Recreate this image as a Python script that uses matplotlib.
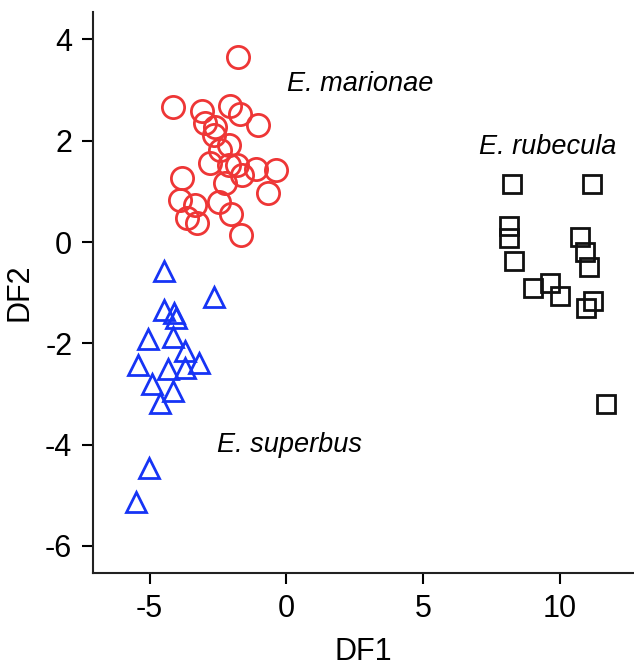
import matplotlib
matplotlib.use("Agg")
import matplotlib.pyplot as plt

plt.rcParams['font.family'] = ['Liberation Sans', 'DejaVu Sans']
plt.rcParams['axes.unicode_minus'] = False

# E. marionae (cercles rouges)
marionae_x = [-1.78, -4.16, -3.09, -2.05, -1.68, -1.04, -2.97, -2.60, -2.66, -2.11,
              -2.42, -2.78, -2.11, -1.81, -1.62, -1.11, -0.37, -2.23, -0.68, -3.82,
              -3.88, -3.33, -3.64, -3.27, -2.48, -2.01, -1.65]
marionae_y = [3.66, 2.66, 2.59, 2.69, 2.53, 2.31, 2.35, 2.28, 2.11, 1.92,
              1.82, 1.56, 1.52, 1.52, 1.32, 1.44, 1.42, 1.16, 0.96, 1.27,
              0.83, 0.73, 0.47, 0.37, 0.80, 0.55, 0.14]

# E. superbus (triangles bleus)
superbus_x = [-4.46, -2.66, -4.46, -4.12, -4.02, -5.04, -4.16, -3.70, -3.19, -5.41,
              -4.31, -3.72, -4.90, -4.15, -4.62, -5.01, -5.49]
superbus_y = [-0.57, -1.09, -1.34, -1.40, -1.50, -1.92, -1.88, -2.15, -2.38, -2.43,
              -2.51, -2.48, -2.81, -2.94, -3.17, -4.47, -5.14]

# E. rubecula (carrés noirs)
rubecula_x = [8.24, 11.16, 8.14, 8.14, 8.33, 10.73, 10.92, 11.07, 9.00, 9.64,
              10.00, 11.22, 10.93, 11.68]
rubecula_y = [1.15, 1.15, 0.32, 0.07, -0.37, 0.10, -0.19, -0.50, -0.90, -0.80,
              -1.06, -1.17, -1.31, -3.19]

fig = plt.figure(figsize=(6.34, 6.69), dpi=100)
ax = fig.add_axes([0.147, 0.143, 0.853, 0.839])

ax.plot(marionae_x, marionae_y, 'o', ms=16, mfc='none', mec='#ee3636', mew=2.0)
ax.plot(superbus_x, superbus_y, '^', ms=15, mfc='none', mec='#1634f5', mew=2.0)
ax.plot(rubecula_x, rubecula_y, 's', ms=12.5, mfc='none', mec='#111111', mew=2.0)

ax.text(0.03, 3.12, 'E. marionae', fontsize=19.5, style='italic', va='center')
ax.text(7.03, 1.88, 'E. rubecula', fontsize=19.5, style='italic', va='center')
ax.text(-2.53, -4.01, 'E. superbus', fontsize=19.5, style='italic', va='center')

ax.set_xlim(-7.06, 12.7)
ax.set_ylim(-6.54, 4.54)
ax.set_xticks([-5, 0, 5, 10])
ax.set_yticks([4, 2, 0, -2, -4, -6])
ax.tick_params(labelsize=22, length=8, width=1.5, direction='out', pad=7)

for side in ['top', 'right']:
    ax.spines[side].set_visible(False)
for side in ['left', 'bottom']:
    ax.spines[side].set_linewidth(1.5)
    ax.spines[side].set_color('#222222')

ax.set_xlabel('DF1', fontsize=22, labelpad=9)
ax.set_ylabel('DF2', fontsize=22, labelpad=8)

fig.savefig('out.png', dpi=100)
